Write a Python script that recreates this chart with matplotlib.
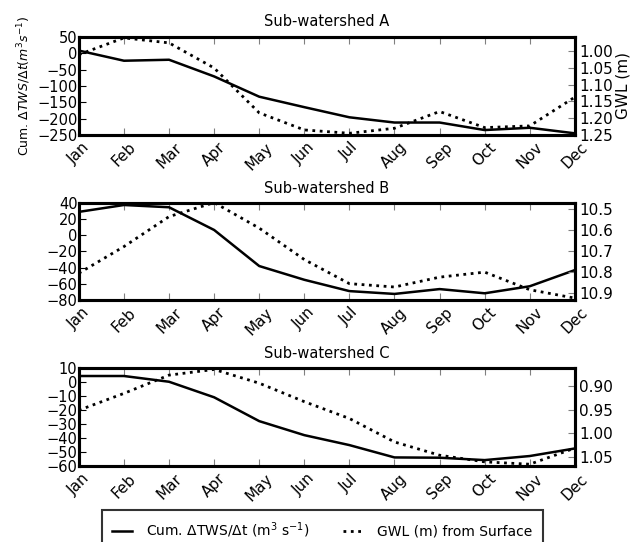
import numpy as np
import matplotlib
matplotlib.use("Agg")
import matplotlib.pyplot as plt

months = ['Jan', 'Feb', 'Mar', 'Apr', 'May', 'Jun',
          'Jul', 'Aug', 'Sep', 'Oct', 'Nov', 'Dec']

# cumulative dTWS/dt (left axis)
tws_a = [8, -23, -20, -71, -133, -165, -196, -212, -212, -235, -228, -245]
tws_b = [29, 37.5, 34.7, 6.6, -38, -55, -69, -72.5, -66.5, -71.7, -63, -43]
tws_c = [4.3, 4.3, 0.2, -10.9, -27.9, -37.9, -45, -53.8, -54, -55.7, -52.8, -47.4]

# GWL from surface (right axis, inverted)
gwl_a = [1.01, 0.96, 0.975, 1.05, 1.184, 1.235, 1.245, 1.23, 1.18, 1.228, 1.223, 1.137]
gwl_b = [10.805, 10.678, 10.535, 10.468, 10.59, 10.74, 10.855, 10.871, 10.824, 10.80, 10.884, 10.924]
gwl_c = [0.951, 0.9155, 0.877, 0.865, 0.894, 0.933, 0.9685, 1.018, 1.046, 1.06, 1.065, 1.031]

titles = ['Sub-watershed A', 'Sub-watershed B', 'Sub-watershed C']
left_ticks = [np.arange(-250, 51, 50), np.arange(-80, 41, 20), np.arange(-60, 11, 10)]
left_lims = [(-250, 50), (-80, 40), (-60, 10)]
right_ticks = [[1.00, 1.05, 1.10, 1.15, 1.20, 1.25], [10.5, 10.6, 10.7, 10.8, 10.9],
               [0.90, 0.95, 1.00, 1.05]]
right_fmt = ['%.2f', '%.1f', '%.2f']
right_lims = [(1.25, 0.957), (10.933, 10.47), (1.069, 0.862)]

fig = plt.figure(figsize=(6.31, 5.42), dpi=100)
boxes = [[0.125, 0.751, 0.786, 0.181],
         [0.125, 0.4465, 0.786, 0.179],
         [0.125, 0.140, 0.786, 0.181]]

x = np.arange(12)
tws = [tws_a, tws_b, tws_c]
gwl = [gwl_a, gwl_b, gwl_c]

for i in range(3):
    ax = fig.add_axes(boxes[i])
    l1, = ax.plot(x, tws[i], 'k-', lw=1.8, label=r'Cum. $\Delta$TWS/$\Delta$t (m$^3$ s$^{-1}$)')
    ax.set_xlim(0, 11)
    ax.set_ylim(*left_lims[i])
    ax.set_yticks(left_ticks[i])
    ax.set_xticks(x)
    ax.set_xticklabels(months, rotation=45, fontsize=11)
    ax.tick_params(axis='y', labelsize=10.5, direction='in', length=5, pad=1)
    ax.tick_params(axis='x', direction='in', length=5, top=True, color='0.5')
    ax.set_title(titles[i], fontsize=10.5, pad=7.5)
    for s in ax.spines.values():
        s.set_linewidth(2.2)

    ax2 = ax.twinx()
    l2, = ax2.plot(x, gwl[i], 'k:', lw=2, label='GWL (m) from Surface')
    ax2.set_ylim(*right_lims[i])
    ax2.set_yticks(right_ticks[i])
    ax2.set_yticklabels([right_fmt[i] % v for v in right_ticks[i]])
    ax2.tick_params(axis='y', labelsize=11, direction='in', length=5, color='0.5', pad=3)
    for s in ax2.spines.values():
        s.set_linewidth(2.2)

    if i == 0:
        ax.set_ylabel(r'Cum. $\Delta TWS/\Delta t(m^3 s^{-1})$', fontsize=9, labelpad=3)
        ax2.set_ylabel('GWL (m)', fontsize=11, labelpad=2)

leg = fig.legend([l1, l2], [l1.get_label(), l2.get_label()], ncol=2,
                 loc='upper center', bbox_to_anchor=(0.511, 0.059), borderaxespad=0,
                 fontsize=10, frameon=True, fancybox=False, borderpad=0.75,
                 columnspacing=2.4, handlelength=1.45, handletextpad=1.0)
leg.get_frame().set_edgecolor('black')
leg.get_frame().set_linewidth(1.5)

fig.savefig('out.png', dpi=100)
